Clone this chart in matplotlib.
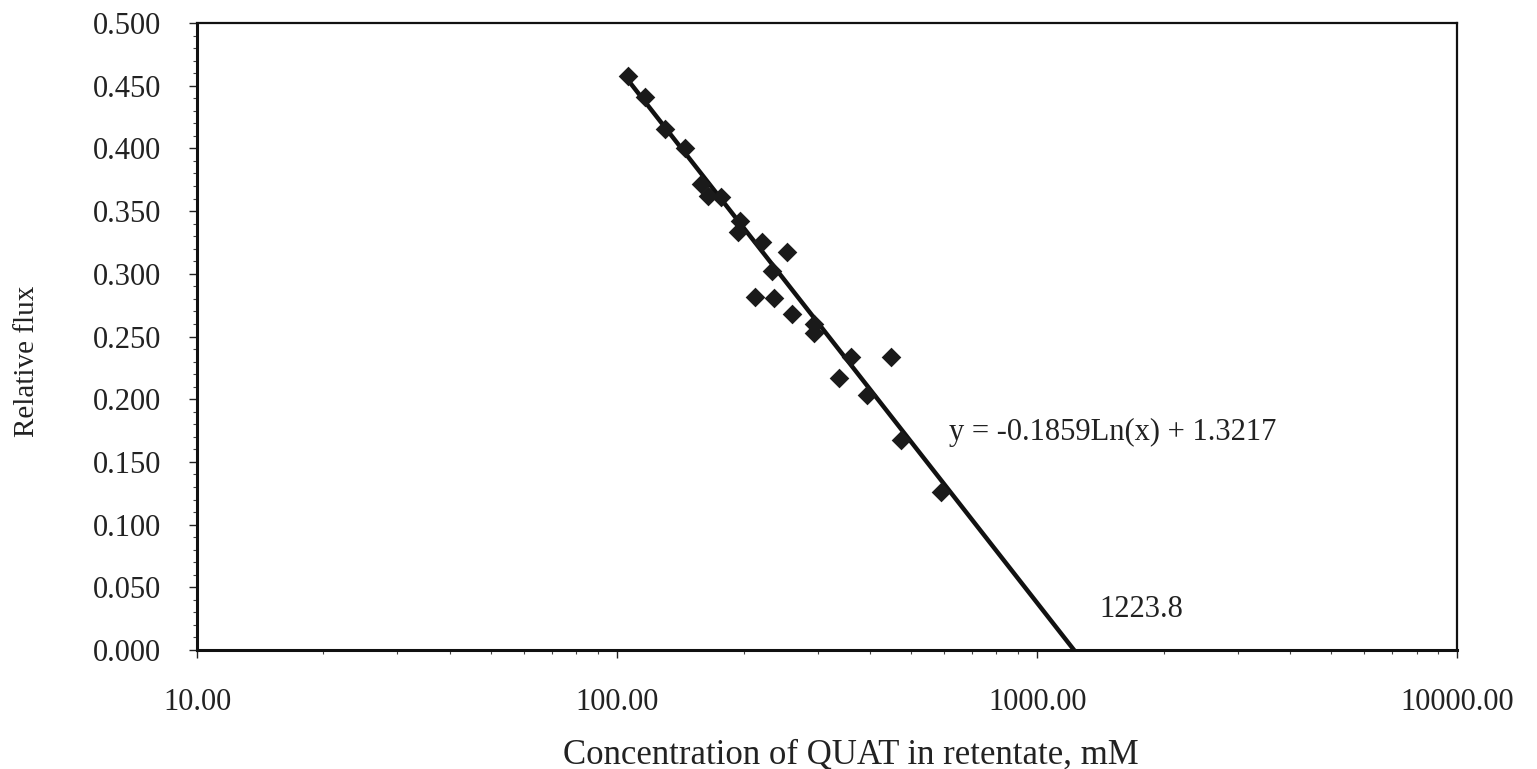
import numpy as np
import matplotlib.pyplot as plt
from matplotlib.ticker import FixedLocator, MultipleLocator, FormatStrFormatter, NullFormatter

plt.rcParams['font.family'] = ['Liberation Serif', 'DejaVu Serif']

# data
conc = [106.2, 116.7, 130.2, 145.3, 158.7, 164.9, 177.1, 196.6, 194.5, 220.7,
        253.2, 233.2, 213.5, 235.7, 260.2, 293.7, 293.7, 359.8, 448.3, 336.9,
        392.9, 473.6, 590.1]
flux = [0.4577, 0.4409, 0.4153, 0.4002, 0.3714, 0.3618, 0.3610, 0.3419, 0.3331, 0.3251,
        0.3171, 0.3019, 0.2819, 0.2804, 0.2676, 0.2596, 0.2532, 0.2340, 0.2340, 0.2173,
        0.2037, 0.1677, 0.1262]

slope = -0.1859
intercept = 1.3217
x_zero = 1223.8

fig = plt.figure(figsize=(15.37, 7.69), dpi=100)
ax = fig.add_axes([0.1282, 0.1547, 0.8199, 0.8154])

ax.scatter(conc, flux, marker="D", s=100, color="#1a1a1a", zorder=3, linewidths=0)

# fitted log line, from first point down to the x intercept
xf = np.array([min(conc), x_zero])
ax.plot(xf, slope * np.log(xf) + intercept, color="#111111", linewidth=3.2, zorder=2)

ax.set_xscale("log")
ax.set_xlim(10, 10000)
ax.set_ylim(0, 0.5)

ax.xaxis.set_major_locator(FixedLocator([10, 100, 1000, 10000]))
ax.xaxis.set_major_formatter(FormatStrFormatter("%.2f"))
ax.xaxis.set_minor_formatter(NullFormatter())
ax.yaxis.set_major_locator(MultipleLocator(0.05))
ax.yaxis.set_minor_locator(MultipleLocator(0.01))
ax.yaxis.set_major_formatter(FormatStrFormatter("%.3f"))

ax.tick_params(axis="both", which="major", direction="out", length=6, width=1,
               labelsize=22, colors="#222222")
ax.tick_params(axis="both", which="minor", direction="out", length=3, width=0.8,
               colors="#444444")
ax.tick_params(axis="x", which="major", pad=21)
ax.tick_params(axis="y", which="major", pad=20)

for side in ["left", "bottom"]:
    ax.spines[side].set_linewidth(2.2)
for side in ["top", "right"]:
    ax.spines[side].set_linewidth(1.6)
for s in ax.spines.values():
    s.set_color("#111111")

ax.set_xlabel("Concentration of QUAT in retentate, mM", fontsize=25, color="#222222")
ax.xaxis.set_label_coords(0.519, -0.141)
ax.set_ylabel("Relative flux", fontsize=21, color="#222222")
ax.yaxis.set_label_coords(-0.125, 0.46)

ax.text(617, 0.1733, "y = -0.1859Ln(x) + 1.3217", fontsize=22, color="#222222",
        va="center", ha="left")
ax.text(1410, 0.0327, "1223.8", fontsize=22, color="#222222", va="center", ha="left")

fig.savefig("out.png", dpi=100)
